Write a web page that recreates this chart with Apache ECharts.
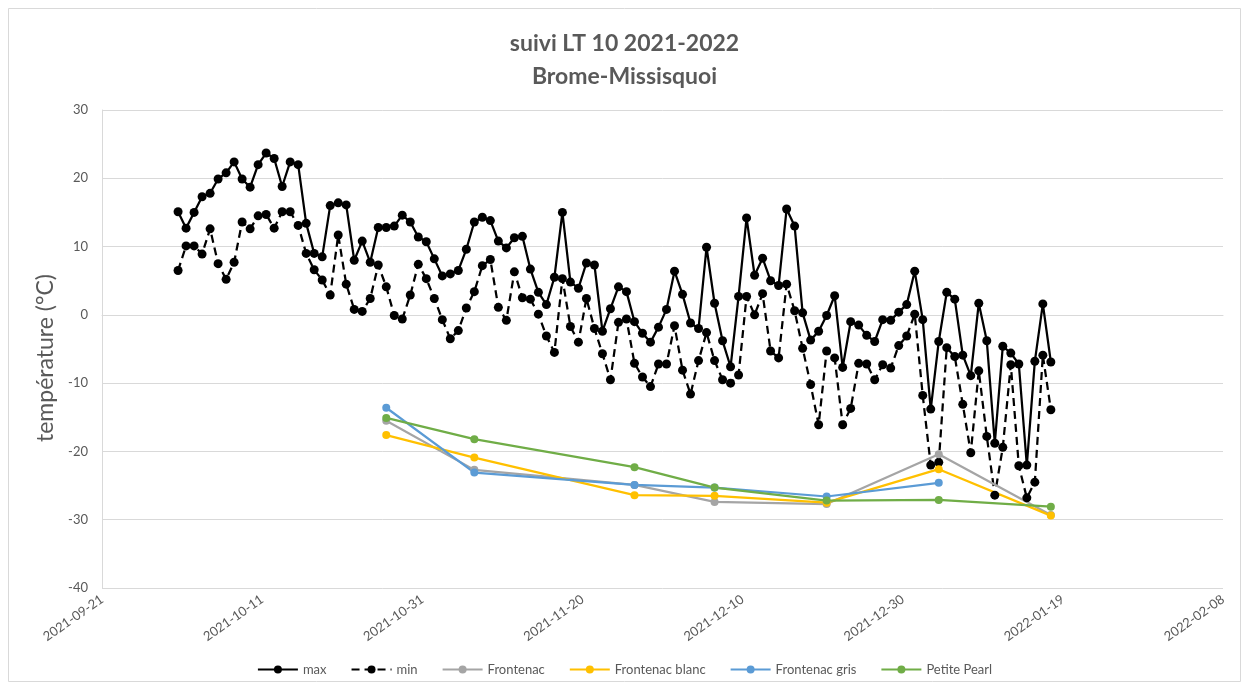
<!DOCTYPE html>
<html>
<head>
<meta charset="utf-8">
<script src="https://cdn.jsdelivr.net/npm/echarts@6/dist/echarts.min.js"></script>
<style>html,body{margin:0;padding:0;background:#fff;}#c{width:1249px;height:686px;}</style>
</head>
<body>
<div id="c"></div>
<script>
// ---- data ----
const axisStart = '2021-09-21';
const axisEnd = '2022-02-08';
const firstDailyDate = '2021-09-30';
const maxValues = [15.1,12.7,15.0,17.3,17.8,19.9,20.8,22.4,19.9,18.7,22.0,23.7,22.9,18.8,22.4,22.0,13.4,9.0,8.5,16.0,
  16.4,16.1,8.0,10.8,7.7,12.8,12.8,13.0,14.6,13.6,11.4,10.7,8.2,5.7,6.0,6.5,9.6,13.6,14.3,13.8,
  10.8,9.8,11.3,11.5,6.7,3.3,1.5,5.5,15.0,4.8,3.9,7.6,7.3,-2.4,0.9,4.1,3.4,-1.0,-2.7,-4.0,
  -1.8,0.8,6.4,3.0,-1.2,-2.0,9.9,1.7,-3.8,-7.6,2.7,14.2,5.8,8.3,5.0,4.3,15.5,13.0,0.3,-3.7,
  -2.4,-0.1,2.8,-7.7,-1.0,-1.5,-3.0,-3.9,-0.7,-0.8,0.4,1.5,6.4,-0.7,-13.8,-3.9,3.3,2.3,-5.9,-8.9,
  1.7,-3.8,-18.8,-4.6,-5.6,-7.2,-22.0,-6.8,1.6,-6.9];
const minValues = [6.5,10.1,10.1,8.9,12.6,7.5,5.2,7.7,13.6,12.6,14.5,14.7,12.7,15.1,15.1,13.1,9.0,6.6,5.1,2.9,
  11.7,4.5,0.8,0.5,2.4,7.3,4.1,-0.1,-0.6,2.9,7.4,5.3,2.4,-0.7,-3.5,-2.3,1.0,3.4,7.2,8.1,
  1.1,-0.8,6.3,2.5,2.3,0.1,-3.1,-5.5,5.3,-1.7,-4.0,2.4,-2.0,-5.7,-9.5,-1.1,-0.6,-7.1,-9.1,-10.5,
  -7.2,-7.2,-1.6,-8.1,-11.6,-6.7,-2.6,-6.7,-9.5,-10.0,-8.8,2.7,0.0,3.1,-5.3,-6.3,4.5,0.6,-4.9,-10.2,
  -16.1,-5.3,-6.3,-16.1,-13.7,-7.1,-7.2,-9.5,-7.3,-7.8,-4.5,-3.1,0.1,-11.8,-22.0,-21.6,-4.8,-6.1,-13.1,-20.2,
  -8.2,-17.8,-26.4,-19.4,-7.3,-22.1,-26.8,-24.5,-5.9,-13.9];
const sampleDates = ['2021-10-26','2021-11-06','2021-11-26','2021-12-06','2021-12-20','2022-01-03','2022-01-17'];
const frontenac = [-15.5,-22.7,-24.9,-27.4,-27.7,-20.4,-29.3];
const frontenacBlanc = [-17.6,-20.9,-26.4,-26.5,-27.5,-22.6,-29.4];
const frontenacGris = [-13.6,-23.1,-24.9,-25.3,-26.6,-24.6,null];
const petitePearl = [-15.1,-18.2,-22.3,-25.3,-27.2,-27.1,-28.1];
const yTicks = {min:-40, max:30, step:10};
const seriesNames = ['max','min','Frontenac','Frontenac blanc','Frontenac gris','Petite Pearl'];

// ---- helpers ----
const DAY = 86400000;
function utc(s){const p=s.split('-').map(Number);return Date.UTC(p[0],p[1]-1,p[2]);}
const t0 = utc(axisStart);
function dayIdx(s){return (utc(s)-t0)/DAY;}
function fmt(d){const dt=new Date(t0+d*DAY);const m=String(dt.getUTCMonth()+1).padStart(2,'0');const dd=String(dt.getUTCDate()).padStart(2,'0');return dt.getUTCFullYear()+'-'+m+'-'+dd;}
// Excel date axis: each day occupies a slot, point drawn in middle of slot
const HALF = 0.5;
const d0 = dayIdx(firstDailyDate);
const maxData = maxValues.map((v,i)=>[d0+i+HALF,v]);
const minData = minValues.map((v,i)=>[d0+i+HALF,v]);
const sx = sampleDates.map(s=>dayIdx(s)+HALF);
const pair = arr => arr.map((v,i)=>v===null?null:[sx[i],v]).filter(p=>p!==null);

const FONT = 'Lato, "Liberation Sans", sans-serif';
const TXT = '#595959';
const chart = echarts.init(document.getElementById('c'), null, {renderer:'canvas'});
function lineSeries(name,data,color,dashed,size){
  return {name, type:'line', data, symbol:'circle', symbolSize:size, showSymbol:true,
    itemStyle:{color:color, borderWidth:0}, lineStyle:{color:color,width:2.25,type:dashed?[8,5]:'solid'},
    emphasis:{disabled:true}, animation:false};
}
chart.setOption({
  backgroundColor:'#fff',
  textStyle:{fontFamily:FONT},
  title:{text:'suivi LT 10 2021-2022\nBrome-Missisquoi', left:'center', top:22,
    textStyle:{fontFamily:FONT,fontSize:23,fontWeight:'bold',color:TXT,lineHeight:33}},
  grid:{left:102, right:26, top:110, bottom:98, containLabel:false},
  xAxis:{type:'value', min:dayIdx(axisStart), max:dayIdx(axisEnd), interval:20,
    axisLine:{show:true,lineStyle:{color:'#d9d9d9'}}, axisTick:{show:false}, splitLine:{show:false},
    axisLabel:{rotate:35, color:TXT, fontSize:13, fontFamily:FONT, margin:10, formatter:v=>fmt(v), showMaxLabel:true, showMinLabel:true}},
  yAxis:{type:'value', min:yTicks.min, max:yTicks.max, interval:yTicks.step,
    name:'température (°C)', nameLocation:'middle', nameGap:45, nameRotate:90,
    nameTextStyle:{fontFamily:FONT,fontSize:23,color:TXT,padding:[0,18,0,0]},
    axisLine:{show:true,lineStyle:{color:'#d9d9d9'}}, axisTick:{show:false},
    splitLine:{lineStyle:{color:'#d9d9d9',width:1}},
    axisLabel:{color:TXT,fontSize:13,fontFamily:FONT,margin:14}},
  legend:{bottom:5, left:'center', itemWidth:40, itemHeight:10, itemGap:24,
    textStyle:{color:TXT,fontSize:13,fontFamily:FONT}, data:seriesNames},
  graphic:[{type:'rect', shape:{x:8.5,y:8.5,width:1232,height:673}, style:{fill:null,stroke:'#d9d9d9',lineWidth:1}, silent:true}],
  series:[
    lineSeries(seriesNames[0],maxData,'#000000',false,9),
    lineSeries(seriesNames[1],minData,'#000000',true,9),
    lineSeries(seriesNames[2],pair(frontenac),'#a5a5a5',false,8),
    lineSeries(seriesNames[3],pair(frontenacBlanc),'#ffc000',false,8),
    lineSeries(seriesNames[4],pair(frontenacGris),'#5b9bd5',false,8),
    lineSeries(seriesNames[5],pair(petitePearl),'#70ad47',false,8)
  ]
});
</script>
</body>
</html>
